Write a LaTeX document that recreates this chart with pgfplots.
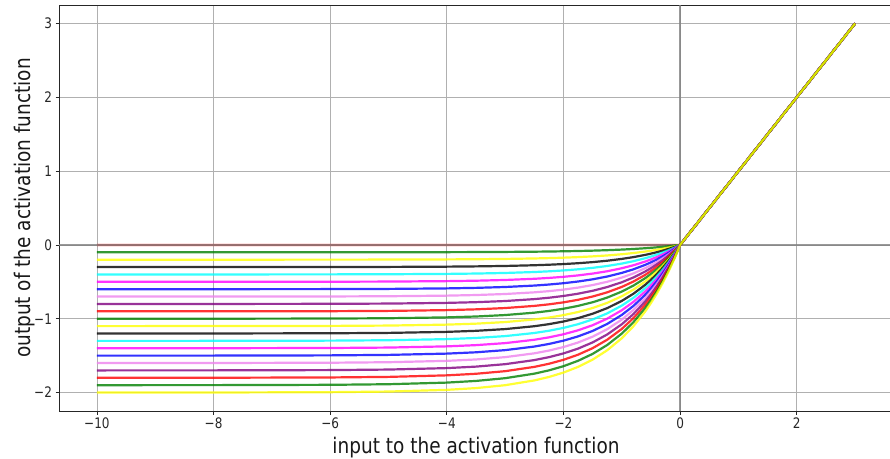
\documentclass[border=0pt]{standalone}
\usepackage{fontspec}
\setmainfont{DejaVu Sans}
\newfontfamily\cfont[FakeStretch=0.83]{DejaVu Sans}
\newfontfamily\lfont[FakeStretch=0.86]{DejaVu Sans}
\usepackage{pgfplots}
\usepackage{pgfplotstable}
\pgfplotsset{compat=1.18}
\usetikzlibrary{calc}
\definecolor{cred}{HTML}{FF0000}
\definecolor{cgreen}{HTML}{008000}
\definecolor{cyellow}{HTML}{FFFF00}
\definecolor{cblack}{HTML}{000000}
\definecolor{ccyan}{HTML}{00FFFF}
\definecolor{cmagenta}{HTML}{FF00FF}
\definecolor{cblue}{HTML}{0000FF}
\definecolor{cviolet}{HTML}{EE82EE}
\definecolor{cpurple}{HTML}{800080}
\definecolor{gridgray}{HTML}{B0B0B0}
\definecolor{zerogray}{HTML}{808080}

\pgfplotstableread{
x a0 a1 a2 a3 a4 a5 a6 a7 a8 a9 a10 a11 a12 a13 a14 a15 a16 a17 a18 a19 a20
-10 0 -0.100 -0.200 -0.300 -0.400 -0.500 -0.600 -0.700 -0.800 -0.900 -1.000 -1.100 -1.200 -1.300 -1.400 -1.500 -1.600 -1.700 -1.800 -1.900 -2.000
-8 0 -0.1000 -0.1999 -0.2999 -0.3999 -0.4998 -0.5998 -0.6998 -0.7997 -0.8997 -0.9997 -1.0996 -1.1996 -1.2996 -1.3995 -1.4995 -1.5995 -1.6994 -1.7994 -1.8994 -1.9993
-6 0 -0.0998 -0.1995 -0.2993 -0.3990 -0.4988 -0.5985 -0.6983 -0.7980 -0.8978 -0.9975 -1.0973 -1.1970 -1.2968 -1.3965 -1.4963 -1.5960 -1.6958 -1.7955 -1.8953 -1.9950
-5 0 -0.0993 -0.1987 -0.2980 -0.3973 -0.4966 -0.5960 -0.6953 -0.7946 -0.8939 -0.9933 -1.0926 -1.1919 -1.2912 -1.3906 -1.4899 -1.5892 -1.6885 -1.7879 -1.8872 -1.9865
-4 0 -0.0982 -0.1963 -0.2945 -0.3927 -0.4908 -0.5890 -0.6872 -0.7853 -0.8835 -0.9817 -1.0798 -1.1780 -1.2762 -1.3744 -1.4725 -1.5707 -1.6689 -1.7670 -1.8652 -1.9634
-3.5 0 -0.0970 -0.1940 -0.2909 -0.3879 -0.4849 -0.5819 -0.6789 -0.7758 -0.8728 -0.9698 -1.0668 -1.1638 -1.2607 -1.3577 -1.4547 -1.5517 -1.6487 -1.7456 -1.8426 -1.9396
-3 0 -0.0950 -0.1900 -0.2851 -0.3801 -0.4751 -0.5701 -0.6651 -0.7602 -0.8552 -0.9502 -1.0452 -1.1403 -1.2353 -1.3303 -1.4253 -1.5203 -1.6154 -1.7104 -1.8054 -1.9004
-2.5 0 -0.0918 -0.1836 -0.2754 -0.3672 -0.4590 -0.5508 -0.6425 -0.7343 -0.8261 -0.9179 -1.0097 -1.1015 -1.1933 -1.2851 -1.3769 -1.4687 -1.5605 -1.6523 -1.7440 -1.8358
-2.25 0 -0.0895 -0.1789 -0.2684 -0.3578 -0.4473 -0.5368 -0.6262 -0.7157 -0.8051 -0.8946 -0.9841 -1.0735 -1.1630 -1.2524 -1.3419 -1.4314 -1.5208 -1.6103 -1.6997 -1.7892
-2 0 -0.0865 -0.1729 -0.2594 -0.3459 -0.4323 -0.5188 -0.6053 -0.6917 -0.7782 -0.8647 -0.9511 -1.0376 -1.1241 -1.2105 -1.2970 -1.3835 -1.4699 -1.5564 -1.6429 -1.7293
-1.75 0 -0.0826 -0.1652 -0.2479 -0.3305 -0.4131 -0.4957 -0.5784 -0.6610 -0.7436 -0.8262 -0.9089 -0.9915 -1.0741 -1.1567 -1.2393 -1.3220 -1.4046 -1.4872 -1.5698 -1.6525
-1.5 0 -0.0777 -0.1554 -0.2331 -0.3107 -0.3884 -0.4661 -0.5438 -0.6215 -0.6992 -0.7769 -0.8546 -0.9322 -1.0099 -1.0876 -1.1653 -1.2430 -1.3207 -1.3984 -1.4761 -1.5537
-1.25 0 -0.0714 -0.1427 -0.2141 -0.2854 -0.3568 -0.4281 -0.4995 -0.5708 -0.6422 -0.7135 -0.7849 -0.8562 -0.9276 -0.9989 -1.0703 -1.1416 -1.2130 -1.2843 -1.3557 -1.4270
-1 0 -0.0632 -0.1264 -0.1896 -0.2528 -0.3161 -0.3793 -0.4425 -0.5057 -0.5689 -0.6321 -0.6953 -0.7585 -0.8218 -0.8850 -0.9482 -1.0114 -1.0746 -1.1378 -1.2010 -1.2642
-0.8 0 -0.0551 -0.1101 -0.1652 -0.2203 -0.2753 -0.3304 -0.3855 -0.4405 -0.4956 -0.5507 -0.6057 -0.6608 -0.7159 -0.7709 -0.8260 -0.8811 -0.9361 -0.9912 -1.0463 -1.1013
-0.6 0 -0.0451 -0.0902 -0.1354 -0.1805 -0.2256 -0.2707 -0.3158 -0.3610 -0.4061 -0.4512 -0.4963 -0.5414 -0.5865 -0.6317 -0.6768 -0.7219 -0.7670 -0.8121 -0.8573 -0.9024
-0.5 0 -0.0393 -0.0787 -0.1180 -0.1574 -0.1967 -0.2361 -0.2754 -0.3148 -0.3541 -0.3935 -0.4328 -0.4722 -0.5115 -0.5509 -0.5902 -0.6296 -0.6689 -0.7082 -0.7476 -0.7869
-0.4 0 -0.0330 -0.0659 -0.0989 -0.1319 -0.1648 -0.1978 -0.2308 -0.2637 -0.2967 -0.3297 -0.3626 -0.3956 -0.4286 -0.4616 -0.4945 -0.5275 -0.5605 -0.5934 -0.6264 -0.6594
-0.3 0 -0.0259 -0.0518 -0.0778 -0.1037 -0.1296 -0.1555 -0.1814 -0.2073 -0.2333 -0.2592 -0.2851 -0.3110 -0.3369 -0.3629 -0.3888 -0.4147 -0.4406 -0.4665 -0.4924 -0.5184
-0.2 0 -0.0181 -0.0363 -0.0544 -0.0725 -0.0906 -0.1088 -0.1269 -0.1450 -0.1631 -0.1813 -0.1994 -0.2175 -0.2357 -0.2538 -0.2719 -0.2900 -0.3082 -0.3263 -0.3444 -0.3625
-0.1 0 -0.0095 -0.0190 -0.0285 -0.0381 -0.0476 -0.0571 -0.0666 -0.0761 -0.0856 -0.0952 -0.1047 -0.1142 -0.1237 -0.1332 -0.1427 -0.1523 -0.1618 -0.1713 -0.1808 -0.1903
0 0 0 0 0 0 0 0 0 0 0 0 0 0 0 0 0 0 0 0 0 0
3 3 3 3 3 3 3 3 3 3 3 3 3 3 3 3 3 3 3 3 3 3
}\elu

\begin{document}
\begin{tikzpicture}
\begin{axis}[
  scale only axis,
  width=834pt, height=406pt,
  xmin=-10.65, xmax=3.65, ymin=-2.25, ymax=3.25,
  xtick={-10,-8,-6,-4,-2,0,2},
  xticklabels={−10,−8,−6,−4,−2,0,2},
  ytick={-2,-1,0,1,2,3},
  yticklabels={−2,−1,0,1,2,3},
  xtick pos=lower, ytick pos=left,
  tick align=outside,
  major tick length=3.5pt,
  tick style={color=black!85, line width=0.8pt},
  grid=major,
  grid style={color=gridgray, line width=0.8pt},
  axis line style={color=black!85, line width=0.8pt},
  ticklabel style={font=\cfont\fontsize{14.5}{16}\selectfont, color=black!85},
  label style={font=\lfont\fontsize{21.5}{24}\selectfont, color=black!90},
  xlabel={input to the activation function},
  ylabel={output of the activation function},
  xlabel style={at={(axis description cs:0.5,0)}, anchor=base, yshift=-42pt},
  ylabel style={at={(axis description cs:0,0.5)}, anchor=base, yshift=28pt},
  every axis plot/.append style={line width=2.2pt, opacity=0.8, line join=round},
]
\coordinate (ll) at (rel axis cs:0,0);
\addplot[cred] table[x=x, y=a0] {\elu};
\addplot[zerogray, line width=2.2pt, opacity=0.8, forget plot] coordinates {(-10.65,0) (3.65,0)};
\addplot[zerogray, line width=2.2pt, opacity=0.8, forget plot] coordinates {(0,-2.25) (0,3.25)};
\addplot[cgreen] table[x=x, y=a1] {\elu};
\addplot[cyellow] table[x=x, y=a2] {\elu};
\addplot[cblack] table[x=x, y=a3] {\elu};
\addplot[ccyan] table[x=x, y=a4] {\elu};
\addplot[cmagenta] table[x=x, y=a5] {\elu};
\addplot[cblue] table[x=x, y=a6] {\elu};
\addplot[cviolet] table[x=x, y=a7] {\elu};
\addplot[cpurple] table[x=x, y=a8] {\elu};
\addplot[cred] table[x=x, y=a9] {\elu};
\addplot[cgreen] table[x=x, y=a10] {\elu};
\addplot[cyellow] table[x=x, y=a11] {\elu};
\addplot[cblack] table[x=x, y=a12] {\elu};
\addplot[ccyan] table[x=x, y=a13] {\elu};
\addplot[cmagenta] table[x=x, y=a14] {\elu};
\addplot[cblue] table[x=x, y=a15] {\elu};
\addplot[cviolet] table[x=x, y=a16] {\elu};
\addplot[cpurple] table[x=x, y=a17] {\elu};
\addplot[cred] table[x=x, y=a18] {\elu};
\addplot[cgreen] table[x=x, y=a19] {\elu};
\addplot[cyellow] table[x=x, y=a20] {\elu};
\end{axis}
\pgfresetboundingbox
\path ($(ll)+(-59pt,-47pt)$) rectangle ($(ll)+(831pt,411pt)$);
\end{tikzpicture}
\end{document}
